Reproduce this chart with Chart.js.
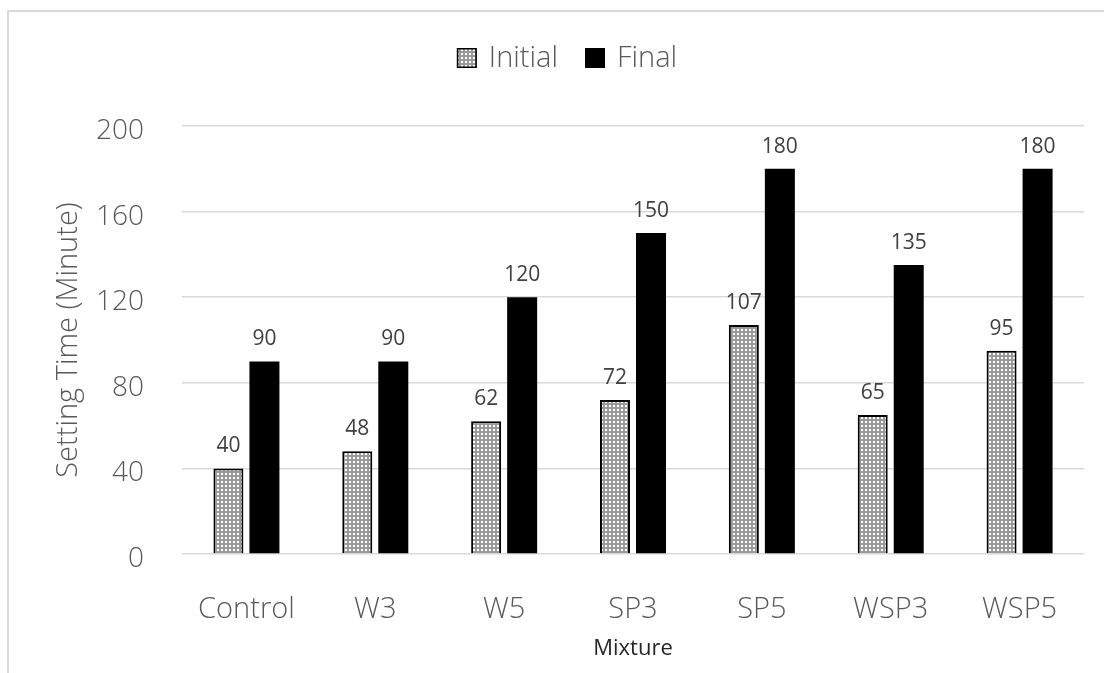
<!DOCTYPE html>
<html>
<head>
<meta charset="utf-8">
<script src="https://cdn.jsdelivr.net/npm/chart.js@4.4.1/dist/chart.umd.min.js"></script>
<style>
  html, body { margin: 0; padding: 0; background: #fff; }
  #wrap { position: relative; width: 1104px; height: 673px; overflow: hidden; }
  #frame { position: absolute; left: 7px; top: 10px; width: 1200px; height: 1000px;
           border: 2px solid #d9d9d9; box-sizing: border-box; }
  canvas { position: absolute; left: 0; top: 0; }
</style>
</head>
<body>
<div id="wrap">
  <div id="frame"></div>
  <canvas id="chart" width="1104" height="673"></canvas>
</div>
<script>
// Setting times per mixture (minutes)
const mixtures = ['Control', 'W3', 'W5', 'SP3', 'SP5', 'WSP3', 'WSP5'];
const initialTimes = [40, 48, 62, 72, 107, 65, 95];
const finalTimes = [90, 90, 120, 150, 180, 135, 180];
const yTicks = [0, 40, 80, 120, 160, 200];

const FONT = '"Open Sans", sans-serif';

// Dotted grey fill for the "Initial" bars
function dotPattern() {
  const c = document.createElement('canvas');
  c.width = 4; c.height = 4;
  const g = c.getContext('2d');
  g.fillStyle = '#9a9a9a';
  g.fillRect(0, 0, 4, 4);
  g.fillStyle = '#ffffff';
  g.fillRect(1, 1, 2, 2);
  return g.createPattern(c, 'repeat');
}

const ctx = document.getElementById('chart').getContext('2d');
const pattern = dotPattern();

// Value labels above each bar
const valueLabels = {
  id: 'valueLabels',
  afterDatasetsDraw(chart) {
    const c = chart.ctx;
    c.save();
    c.font = '400 21px ' + FONT;
    c.fillStyle = '#404040';
    c.textAlign = 'center';
    c.textBaseline = 'middle';
    chart.data.datasets.forEach((ds, i) => {
      chart.getDatasetMeta(i).data.forEach((bar, j) => {
        c.fillText(String(ds.data[j]), bar.x, bar.y - 22);
      });
    });
    c.restore();
  }
};

// Legend row above the plot, using each dataset's own fill
const topLegend = {
  id: 'topLegend',
  afterDraw(chart) {
    const c = chart.ctx;
    const box = 20, gapText = 12, gapItem = 27, cy = 58;
    c.save();
    c.font = '300 29px ' + FONT;
    c.textBaseline = 'middle';
    const items = chart.data.datasets.map(ds => ({
      ds, w: c.measureText(ds.label).width
    }));
    const total = items.reduce((s, it) => s + box + gapText + it.w, 0) + gapItem * (items.length - 1);
    let x = 567 - total / 2;
    items.forEach(it => {
      c.fillStyle = it.ds.backgroundColor;
      c.fillRect(x, cy - box / 2, box, box);
      if (it.ds.borderWidth) {
        c.strokeStyle = it.ds.borderColor;
        c.lineWidth = 1.5;
        c.strokeRect(x + 0.75, cy - box / 2 + 0.75, box - 1.5, box - 1.5);
      }
      x += box + gapText;
      c.fillStyle = '#595959';
      c.fillText(it.ds.label, x, cy + 1);
      x += it.w + gapItem;
    });
    c.restore();
  }
};

new Chart(ctx, {
  type: 'bar',
  data: {
    labels: mixtures,
    datasets: [
      {
        label: 'Initial',
        data: initialTimes,
        backgroundColor: pattern,
        borderColor: '#000000',
        borderWidth: 2,
        borderSkipped: 'bottom'
      },
      {
        label: 'Final',
        data: finalTimes,
        backgroundColor: '#000000',
        borderColor: '#000000',
        borderWidth: 0
      }
    ]
  },
  options: {
    responsive: false,
    animation: false,
    devicePixelRatio: 1,
    layout: { padding: { left: 51, right: 20, top: 126, bottom: 0 } },
    datasets: {
      bar: { categoryPercentage: 0.559, barPercentage: 0.833 }
    },
    plugins: {
      legend: { display: false },
      tooltip: { enabled: false }
    },
    scales: {
      x: {
        grid: { display: false, drawTicks: false },
        border: { display: false },
        ticks: {
          color: '#595959',
          padding: 38,
          font: { family: FONT, size: 29, weight: '300' }
        },
        title: {
          display: true,
          text: 'Mixture',
          color: '#262626',
          padding: { top: 0, bottom: 11 },
          font: { family: FONT, size: 22, weight: '400' }
        },
        afterFit(scale) { scale.height = 119; }
      },
      y: {
        min: 0,
        max: 200,
        afterBuildTicks(scale) { scale.ticks = yTicks.map(v => ({ value: v })); },
        grid: { color: '#d9d9d9', lineWidth: 1.5, drawTicks: false },
        border: { display: false },
        ticks: {
          color: '#595959',
          padding: 38,
          labelOffset: 5,
          font: { family: FONT, size: 28, weight: '300' }
        },
        title: {
          display: true,
          text: 'Setting Time (Minute)',
          color: '#595959',
          padding: { top: 0, bottom: 0 },
          font: { family: FONT, size: 29, weight: '300' }
        },
        afterFit(scale) { scale.width = 131; }
      }
    }
  },
  plugins: [valueLabels, topLegend]
});
</script>
</body>
</html>
